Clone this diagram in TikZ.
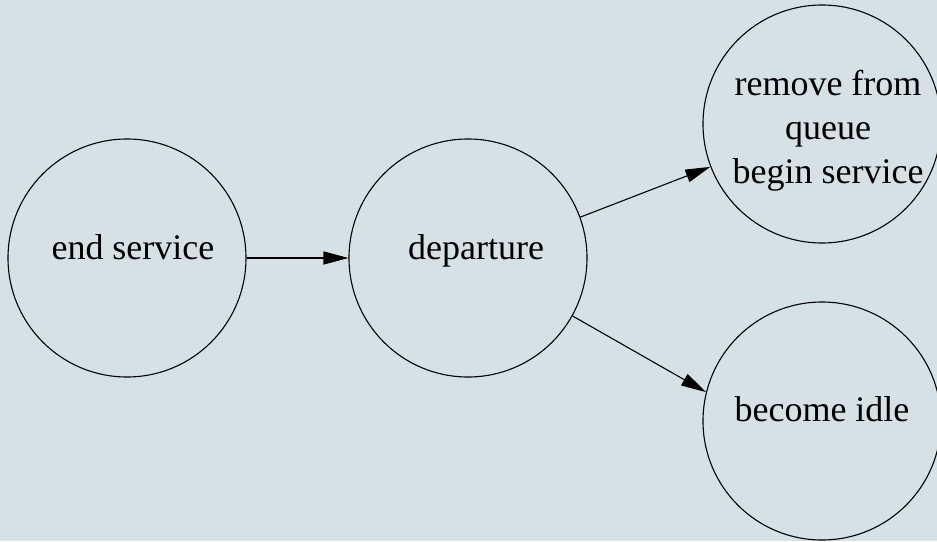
\documentclass[tikz,border=0pt]{standalone}
\usepackage{fontspec}
\setmainfont{Liberation Serif}
\usetikzlibrary{arrows.meta}
\definecolor{bgc}{RGB}{214,225,229}
% #1 = twice the rightward shift, #2 = downward shift of the last baseline, #3 = text
\newcommand{\statetext}[3]{\raisebox{-#2}[0pt][0pt]{\makebox[0pt]{\hspace*{#1}\parbox[b]{300pt}{\centering #3}}}}
\begin{document}
\begin{tikzpicture}[x=1pt,y=-1pt,
  state/.style={circle,draw=black,line width=1.1pt,minimum size=238pt,inner sep=0pt,font=\fontsize{36}{44}\selectfont},
  edge/.style={line width=1.1pt,draw=black,-{Triangle[length=25pt,width=13pt]}}]
\fill[bgc] (0,0) rectangle (937,541);
\useasboundingbox (0,0) rectangle (937,541);
\node[state] (end) at (127,258) {\statetext{12pt}{1pt}{end service}};
\node[state] (dep) at (468,258) {\statetext{16pt}{1pt}{departure}};
\node[state] (rem) at (822,124) {\statetext{12pt}{59pt}{remove from\\queue\\begin service}};
\node[state] (idle) at (822,421) {\statetext{0pt}{0pt}{become idle}};
\draw[edge] (end) -- (dep);
\draw[edge] (dep.20) -- (rem.201);
\draw[edge] (dep.-29) -- (idle.166);
\end{tikzpicture}
\end{document}
